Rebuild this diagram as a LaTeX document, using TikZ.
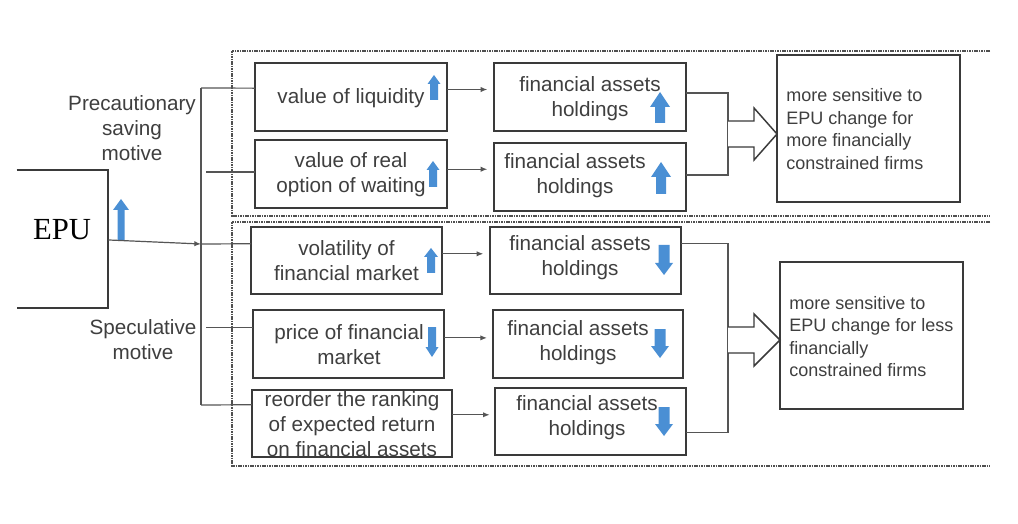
\documentclass[tikz,border=0pt]{standalone}
\usepackage{fontspec}
\setmainfont{Liberation Sans}
\newfontfamily\epufont{Liberation Serif}
\usetikzlibrary{calc,arrows.meta}
\definecolor{ink}{HTML}{3A3A3A}
\definecolor{txtc}{HTML}{3F3F3F}
\definecolor{linec}{HTML}{555555}
\definecolor{dashc}{HTML}{505050}
\definecolor{arrblue}{HTML}{4A8FD4}
% blue block arrows: x, ytop, ybottom, shaft half width, head half width, head length
\newcommand\bup[6]{\fill[arrblue] ({#1-#4},#3) -- ({#1-#4},{#2+#6}) -- ({#1-#5},{#2+#6}) -- (#1,#2) -- ({#1+#5},{#2+#6}) -- ({#1+#4},{#2+#6}) -- ({#1+#4},#3) -- cycle;}
\newcommand\bdown[6]{\fill[arrblue] ({#1-#4},#2) -- ({#1-#4},{#3-#6}) -- ({#1-#5},{#3-#6}) -- (#1,#3) -- ({#1+#5},{#3-#6}) -- ({#1+#4},{#3-#6}) -- ({#1+#4},#2) -- cycle;}
% box from corners: name, x1, y1, x2, y2
\newcommand\bx[5]{\node[boxst, minimum width={(#4-#2)*0.75pt}, minimum height={(#5-#3)*0.75pt}] (#1) at ({(#2+#4)/2},{(#3+#5)/2}) {};}
\tikzset{
  boxst/.style={draw=ink, line width=1.3pt, inner sep=0pt, outer sep=0pt},
  tx/.style={font=\fontsize{15.5pt}{18.75pt}\selectfont, text=txtc, align=center, inner sep=0pt},
  rtx/.style={font=\fontsize{13.5pt}{16.9pt}\selectfont, text=txtc, align=left, inner sep=0pt, anchor=west},
  conn/.style={draw=linec, line width=0.9pt},
  arr/.style={conn, -{Latex[length=5pt,width=4pt]}},
  dashline/.style={draw=dashc, line width=0.9pt, dash pattern=on 1.2pt off 0.6pt},
  hollow/.style={draw=ink, line width=1.1pt, fill=white, line join=miter}
}
\begin{document}
\begin{tikzpicture}[x=0.75pt,y=-0.75pt]
\useasboundingbox[fill=white] (0,0) rectangle (1018,524);

% dashed group frames
\draw[dashline] (990,51) -- (232,51) -- (232,216) -- (990,216);
\draw[dashline] (990,222) -- (232,222) -- (232,466) -- (990,466);

% EPU
\node[inner sep=0pt, minimum width={91*0.75pt}, minimum height={138*0.75pt}] (epu) at (62.5,239) {};
\draw[ink, line width=1.3pt] (epu.north west) -- (epu.north east) -- (epu.south east) -- (epu.south west);
\node[anchor=base, inner sep=0pt, font=\epufont\fontsize{23pt}{27pt}\selectfont, text=black] (epu-t) at (62,240) {EPU};
\bup{121}{199}{240}{3.5}{8}{11}

% motive labels
\node[tx] (prec) at (132,128) {Precautionary\\saving\\motive};
\node[tx] (spec) at (143,339.5) {Speculative\\motive};

% left column boxes
\bx{liq}{255}{63}{447}{131}
\bx{real}{255}{140}{447}{208}
\bx{vol}{251}{227}{442}{294}
\bx{price}{253}{310}{444}{378}
\bx{reord}{252}{390}{452}{457}

% middle column boxes
\bx{fah1}{494}{63}{686}{131}
\bx{fah2}{494}{143}{686}{211}
\bx{fah3}{490}{227}{681}{294}
\bx{fah4}{493}{310}{683}{378}
\bx{fah5}{495}{388}{686}{455}

% right result boxes
\bx{res1}{777}{55}{960}{202}
\bx{res2}{780}{262}{963}{409}

% texts
\node[tx] (liq-t) at (351,98) {value of liquidity};
\node[tx] (real-t) at (351,175) {value of real\\option of waiting};
\node[tx] (vol-t) at (346.5,260.5) {volatility of\\financial market};
\node[tx] (price-t) at (349,344.5) {price of financial\\market};
\node[tx] (reord-t) at (352,424.5) {reorder the ranking\\of expected return\\on financial assets};
\node[tx] (fah1-t) at (590,98.5) {financial assets\\holdings};
\node[tx] (fah2-t) at (575,175.5) {financial assets\\holdings};
\node[tx] (fah3-t) at (580,257.5) {financial assets\\holdings};
\node[tx] (fah4-t) at (578,342.5) {financial assets\\holdings};
\node[tx] (fah5-t) at (587,418) {financial assets\\holdings};
\node[rtx] (res1-t) at (786,129) {more sensitive to\\EPU change for\\more financially\\constrained firms};
\node[rtx] (res2-t) at (789,336.5) {more sensitive to\\EPU change for less\\financially\\constrained firms};

% blue indicator arrows
\bup{434}{75}{100}{4}{6.5}{9}
\bup{433}{161}{187}{4}{6.5}{9}
\bup{431}{248}{273}{4}{7}{9}
\bdown{432}{327}{357}{4}{6.5}{10}
\bup{660}{92}{123}{5}{10}{15}
\bup{661}{162}{194}{5}{10}{15}
\bdown{664}{245}{275}{5.5}{9}{12}
\bdown{660}{329}{358}{5.5}{9}{12}
\bdown{664}{407}{436}{5.5}{9}{12}

% spine from EPU
\coordinate (sp-top) at (201,88);
\coordinate (sp-mid) at (201,244);
\coordinate (sp-bot) at (201,405);
\draw[conn] (sp-top) -- (sp-bot);
\draw[arr] ($(epu.north east)!0.507!(epu.south east)$) -- (sp-mid);
\draw[conn] (sp-top) -- ($(liq.north west)!0.37!(liq.south west)$);
\draw[conn] ($(real.north west)!0.47!(real.south west)$) -- ++(-49,0);
\draw[conn] (sp-mid) -- ($(vol.north west)!0.25!(vol.south west)$);
\draw[conn] ($(price.north west)!0.26!(price.south west)$) -- ++(-47,0);
\draw[conn] (sp-bot) -- ($(reord.north west)!0.22!(reord.south west)$);

% arrows left -> middle
\draw[arr, shorten >=5pt] ($(liq.north east)!0.39!(liq.south east)$) -- (fah1.west |- {$(liq.north east)!0.39!(liq.south east)$});
\draw[arr, shorten >=5pt] ($(real.north east)!0.43!(real.south east)$) -- (fah2.west |- {$(real.north east)!0.43!(real.south east)$});
\draw[arr, shorten >=5pt] ($(vol.north east)!0.4!(vol.south east)$) -- (fah3.west |- {$(vol.north east)!0.4!(vol.south east)$});
\draw[arr, shorten >=4.5pt] ($(price.north east)!0.41!(price.south east)$) -- (fah4.west |- {$(price.north east)!0.41!(price.south east)$});
\draw[arr, shorten >=4pt] ($(reord.north east)!0.37!(reord.south east)$) -- (fah5.west |- {$(reord.north east)!0.37!(reord.south east)$});

% buses to result boxes
\coordinate (f1r) at ($(fah1.north east)!0.44!(fah1.south east)$);
\coordinate (f2r) at ($(fah2.north east)!0.47!(fah2.south east)$);
\coordinate (f3r) at ($(fah3.north east)!0.25!(fah3.south east)$);
\coordinate (f5r) at ($(fah5.north east)!0.66!(fah5.south east)$);
\draw[conn] (f1r) -- ++(42,0) |- (f2r);
\draw[conn] (f3r) -- ++(47,0) |- (f5r);

% hollow block arrows
\draw[hollow] (728,121) -- (754,121) -- (754,108) -- (res1.west |- 0,134) -- (754,160) -- (754,147) -- (728,147);
\draw[hollow] (728,327) -- (754,327) -- (754,314) -- (res2.west |- 0,340) -- (754,366) -- (754,353) -- (728,353);
\end{tikzpicture}
\end{document}
